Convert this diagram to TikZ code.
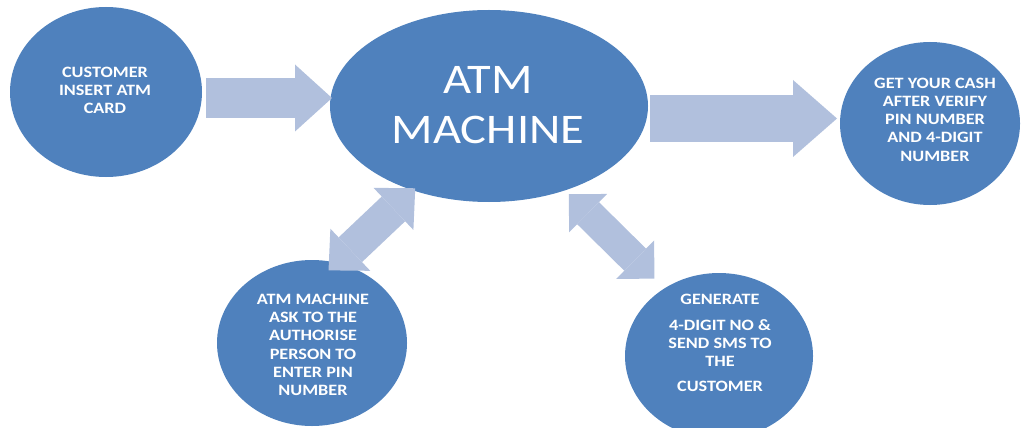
\documentclass[tikz,border=0pt]{standalone}
\usepackage{fontspec}
\usepackage{tikz}
\usetikzlibrary{arrows.meta,calc,shapes.geometric}
\newfontfamily\wordfont[FakeStretch=1.15]{Carlito}
\definecolor{atmblue}{HTML}{4F81BD}
\definecolor{flowblue}{HTML}{B1C0DD}
\tikzset{bubble/.style={ellipse,fill=atmblue,inner sep=0pt,outer sep=0pt},caption/.style={text=white,align=center,inner sep=0pt,font=\wordfont\bfseries\fontsize{9}{10.4}\selectfont},bigcaption/.style={text=white,align=center,inner sep=0pt,font=\wordfont\fontsize{24}{28.3}\selectfont},flow/.style={draw=flowblue,line width=#1}}

\begin{document}
\begin{tikzpicture}[x=1cm,y=1cm]
\useasboundingbox (0,0) rectangle (20.42,8.54);
\node[bubble,minimum width=3.84cm,minimum height=3.40cm] (cust) at (2.12,6.70) {};
\node[bubble,minimum width=6.36cm,minimum height=3.84cm] (atm) at (9.78,6.42) {};
\node[bubble,minimum width=3.60cm,minimum height=3.26cm] (cash) at (18.60,6.07) {};
\node[bubble,minimum width=3.80cm,minimum height=3.32cm] (ask) at (6.24,1.68) {};
\node[bubble,minimum width=3.76cm,minimum height=3.32cm] (sms) at (14.38,1.42) {};
\node[caption] (custtxt) at (2.10,6.73) {CUSTOMER\\INSERT ATM\\CARD};
\node[bigcaption] (atmtxt) at (9.76,6.44) {ATM\\MACHINE};
\node[caption] (cashtxt) at (18.70,6.15) {GET YOUR CASH\\AFTER VERIFY\\PIN NUMBER\\AND 4-DIGIT\\NUMBER};
\node[caption] (asktxt) at (6.26,1.64) {ATM MACHINE\\ASK TO THE\\AUTHORISE\\PERSON TO\\ENTER PIN\\NUMBER};
\node[caption] (smstxt) at (14.40,1.68) {GENERATE\\[.15cm]4-DIGIT NO \&\\SEND SMS TO\\THE\\[.13cm]CUSTOMER};
\draw[flow=.80cm,-{Triangle[length=.74cm,width=1.34cm,line width=0pt]},shorten <=.08cm,shorten >=-.04cm] ([yshift=-.12cm]cust.east) -- ([yshift=-.12cm]cust.east -| atm.west);
\draw[flow=.94cm,-{Triangle[length=.88cm,width=1.54cm,line width=0pt]},shorten <=.04cm,shorten >=.06cm] ([yshift=.10cm]atm.east |- cash.west) -- ([yshift=.10cm]cash.west);
\draw[flow=.68cm,{Triangle[length=.60cm,width=1.16cm,line width=0pt]}-{Triangle[length=.60cm,width=1.16cm,line width=0pt]},shorten <=-.22cm,shorten >=-.06cm] (ask.73) -- (atm.228);
\draw[flow=.62cm,{Triangle[length=.54cm,width=1.08cm,line width=0pt]}-{Triangle[length=.54cm,width=1.08cm,line width=0pt]},shorten <=.11cm,shorten >=.28cm] (atm.312) -- (sms.129);
\end{tikzpicture}
\end{document}
